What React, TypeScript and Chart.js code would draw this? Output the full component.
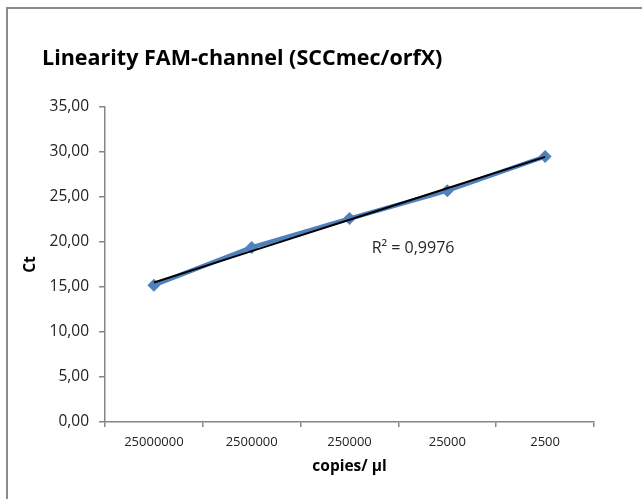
import React, { useEffect, useRef } from 'react';
import { Chart, registerables } from 'chart.js';

Chart.register(...registerables);

// ---- data ----
const categories: string[] = ['25000000', '2500000', '250000', '25000', '2500'];
const ctValues: number[] = [15.2, 19.4, 22.6, 25.7, 29.5];
const yTickValues: number[] = [0, 5, 10, 15, 20, 25, 30, 35];
const chartTitle = 'Linearity FAM-channel (SCCmec/orfX)';
const xAxisTitle = 'copies/ µl';
const yAxisTitle = 'Ct';
const r2Label = 'R² = 0,9976';

// least-squares linear trendline of the measured values (as the spreadsheet's trendline)
function linearTrend(values: number[]): number[] {
  const n = values.length;
  const xs = values.map((_, i) => i + 1);
  const mx = xs.reduce((a, b) => a + b, 0) / n;
  const my = values.reduce((a, b) => a + b, 0) / n;
  let sxy = 0;
  let sxx = 0;
  xs.forEach((x, i) => {
    sxy += (x - mx) * (values[i] - my);
    sxx += (x - mx) * (x - mx);
  });
  const slope = sxy / sxx;
  const icpt = my - slope * mx;
  return xs.map((x) => icpt + slope * x);
}

const FONT = "'Open Sans', 'DejaVu Sans', sans-serif";

const decorPlugin = {
  id: 'decor',
  beforeDraw(chart: any) {
    const ctx = chart.ctx;
    ctx.save();
    ctx.fillStyle = '#ffffff';
    ctx.fillRect(0, 0, chart.width, chart.height);
    ctx.strokeStyle = '#8c8c8c';
    ctx.lineWidth = 2;
    ctx.beginPath();
    ctx.moveTo(7, chart.height);
    ctx.lineTo(7, 8);
    ctx.lineTo(chart.width, 8);
    ctx.stroke();
    ctx.restore();
  },
  afterDraw(chart: any) {
    const ctx = chart.ctx;
    const xs = chart.scales.x;
    const ys = chart.scales.y;
    ctx.save();
    ctx.fillStyle = '#000000';
    ctx.font = `bold 21.5px ${FONT}`;
    ctx.textAlign = 'left';
    ctx.textBaseline = 'middle';
    ctx.fillText(chartTitle, 42, 59);
    ctx.fillStyle = '#262626';
    ctx.font = `16px ${FONT}`;
    ctx.textAlign = 'center';
    ctx.fillText(r2Label, xs.getPixelForValue(2.65), ys.getPixelForValue(19.3));
    ctx.restore();
  },
};

export default function App() {
  const canvasRef = useRef<HTMLCanvasElement | null>(null);

  useEffect(() => {
    if (!canvasRef.current) return;
    const trend = linearTrend(ctValues);
    const chart = new Chart(canvasRef.current, {
      type: 'line',
      data: {
        labels: categories,
        datasets: [
          {
            label: 'Trend',
            data: trend,
            borderColor: '#000000',
            borderWidth: 2,
            pointRadius: 0,
            fill: false,
            order: 0,
          },
          {
            label: 'Ct',
            data: ctValues,
            borderColor: '#4f81bd',
            backgroundColor: '#4f81bd',
            borderWidth: 4.5,
            pointStyle: 'rectRot',
            pointRadius: 6.5,
            pointBorderWidth: 0,
            fill: false,
            order: 1,
          },
        ],
      },
      options: {
        responsive: false,
        animation: false,
        devicePixelRatio: 1,
        layout: { padding: { left: 21, top: 107, right: 48, bottom: 23 } },
        plugins: {
          legend: { display: false },
          tooltip: { enabled: false },
          title: { display: false },
        },
        scales: {
          x: {
            type: 'category',
            offset: true,
            grid: {
              offset: true,
              drawOnChartArea: false,
              drawTicks: true,
              tickLength: 5,
              color: '#868686',
              lineWidth: 1.5,
            },
            border: { color: '#868686', width: 1.5 },
            ticks: {
              color: '#222222',
              font: { family: FONT, size: 13 },
              padding: 7,
              maxRotation: 0,
              autoSkip: false,
            },
            title: {
              display: true,
              text: xAxisTitle,
              color: '#000000',
              font: { family: FONT, size: 15.5, weight: 'bold' },
              padding: 0,
            },
            afterFit(scale: any) {
              scale.height = 54;
            },
          },
          y: {
            min: 0,
            max: 35,
            grid: {
              drawOnChartArea: false,
              drawTicks: true,
              tickLength: 6,
              color: '#868686',
              lineWidth: 1.5,
            },
            border: { color: '#868686', width: 1.5 },
            afterBuildTicks(scale: any) {
              scale.ticks = yTickValues.map((v) => ({ value: v }));
            },
            ticks: {
              color: '#222222',
              font: { family: FONT, size: 15.5 },
              padding: 10,
              callback: (v: any) => Number(v).toFixed(2).replace('.', ','),
            },
            title: {
              display: true,
              text: yAxisTitle,
              color: '#000000',
              font: { family: FONT, size: 15.5, weight: 'bold' },
              padding: 0,
            },
            afterFit(scale: any) {
              scale.width = 84;
            },
          },
        },
      },
      plugins: [decorPlugin],
    });
    return () => chart.destroy();
  }, []);

  return (
    <div style={{ position: 'fixed', left: 0, top: 0, width: 642, height: 499, background: '#fff' }}>
      <canvas ref={canvasRef} width={642} height={499} style={{ display: 'block', width: 642, height: 499 }} />
    </div>
  );
}
